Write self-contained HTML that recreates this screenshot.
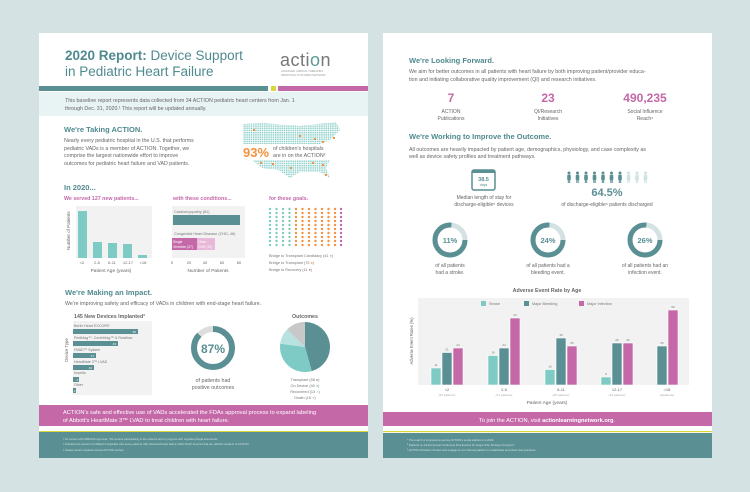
<!DOCTYPE html>
<html><head><meta charset="utf-8"><style>
html,body{margin:0;padding:0;background:#d4e2e3;}
svg{display:block;font-family:"Liberation Sans",sans-serif;}
</style></head><body>
<svg width="750" height="492" viewBox="0 0 750 492" xmlns="http://www.w3.org/2000/svg">
<defs>
<pattern id="dots" width="2.2" height="2.2" patternUnits="userSpaceOnUse"><rect width="1.5" height="1.5" fill="#8fd0cb"/></pattern>
<pattern id="tg" x="268.5" y="207" width="6.5" height="4" patternUnits="userSpaceOnUse"><circle cx="1.5" cy="2" r="1.2" fill="#7ecac5"/></pattern>
<pattern id="og" x="294.5" y="207" width="6.5" height="4" patternUnits="userSpaceOnUse"><circle cx="1.5" cy="2" r="1.2" fill="#f5923e"/></pattern>
<pattern id="mg" x="339.5" y="207" width="6.5" height="4" patternUnits="userSpaceOnUse"><circle cx="1.5" cy="2" r="1.2" fill="#c468a8"/></pattern>
<g id="person"><circle cx="0" cy="-9" r="1.5"/><rect x="-1.8" y="-7.2" width="3.6" height="5.5" rx="1"/><rect x="-1.2" y="-2" width="1" height="3"/><rect x="0.2" y="-2" width="1" height="3"/></g>
</defs>
<rect width="750" height="492" fill="#d4e2e3"/>
<!-- LEFT PAGE -->
<rect x="39" y="33" width="329" height="425" fill="#fff"/>
<text x="65" y="60" font-size="13.5" fill="#4f8a8f"><tspan font-weight="bold">2020 Report:</tspan> Device Support</text>
<text x="65" y="76" font-size="13.5" fill="#4f8a8f">in Pediatric Heart Failure</text>
<text x="280" y="66" font-size="18" fill="#777" letter-spacing="0.5">acti<tspan fill="#5a9a9a">o</tspan>n</text>
<text x="281" y="72" font-size="2.6" fill="#999">ADVANCED CARDIAC THERAPIES</text>
<text x="281" y="76" font-size="2.6" fill="#999">IMPROVING OUTCOMES NETWORK</text>
<rect x="39" y="86" width="229" height="5" fill="#5a8f93"/>
<rect x="271" y="86" width="5" height="5" fill="#d9d63a"/>
<rect x="278" y="86" width="90" height="5" fill="#c468a8"/>
<rect x="39" y="92" width="329" height="24" fill="#e8f4f3"/>
<text x="65" y="102" font-size="5.3" fill="#666">This baseline report represents data collected from 34 ACTION pediatric heart centers from Jan. 1</text>
<text x="65" y="110" font-size="5.3" fill="#666">through Dec. 31, 2020.¹  This report will be updated annually.</text>
<text x="64" y="132" font-size="7.5" font-weight="bold" fill="#4f8a8f">We're Taking ACTION.</text>
<text x="64" y="142" font-size="5.3" fill="#666">Nearly every pediatric hospital in the U.S. that performs</text>
<text x="64" y="150" font-size="5.3" fill="#666">pediatric VADs is a member of ACTION. Together, we</text>
<text x="64" y="157" font-size="5.3" fill="#666">comprise the largest nationwide effort to improve</text>
<text x="64" y="165" font-size="5.3" fill="#666">outcomes for pediatric heart failure and VAD patients.</text>
<path d="M243 124 L262 123 L300 126 L318 124 L336 122 L340 130 L330 140 L320 144 L243 144Z" fill="url(#dots)"/>
<path d="M252 160 L330 160 L326 168 L330 178 L320 172 L300 172 L290 178 L278 170 L262 168Z" fill="url(#dots)"/>
<g fill="#f5923e"><rect x="253" y="129" width="2" height="2"/><rect x="299" y="135" width="2" height="2"/><rect x="314" y="138" width="2" height="2"/><rect x="322" y="141" width="2" height="2"/><rect x="333" y="137" width="2" height="2"/><rect x="260" y="162" width="2" height="2"/><rect x="272" y="163" width="2" height="2"/><rect x="290" y="167" width="2" height="2"/><rect x="312" y="162" width="2" height="2"/><rect x="322" y="164" width="2" height="2"/><rect x="325" y="174" width="2" height="2"/></g>
<text x="243" y="157" font-size="13" font-weight="bold" fill="#f5923e">93%</text>
<text x="273" y="150" font-size="5.3" fill="#666">of children's hospitals</text>
<text x="273" y="157" font-size="5.3" fill="#666">are in on the ACTION²</text>
<text x="64" y="190" font-size="7.5" font-weight="bold" fill="#4f8a8f">In 2020...</text>
<text x="64" y="200" font-size="5.3" font-weight="bold" fill="#c468a8">We served 127 new patients...</text>
<text x="173" y="200" font-size="5.3" font-weight="bold" fill="#c468a8">with these conditions...</text>
<text x="269" y="200" font-size="5.3" font-weight="bold" fill="#c468a8">for these goals.</text>
<rect x="76" y="206" width="76" height="52" fill="#f2f2f2"/>
<text transform="translate(70,250) rotate(-90)" font-size="4.5" fill="#666">Number of Patients</text>
<g fill="#7ecac5"><rect x="78" y="211" width="9" height="47"/><rect x="93" y="242" width="9" height="16"/><rect x="108" y="243" width="9" height="15"/><rect x="123" y="244" width="9" height="14"/><rect x="138" y="255" width="9" height="3"/></g>
<g font-size="4" fill="#666" text-anchor="middle"><text x="82" y="264">&lt;2</text><text x="97" y="264">2-5</text><text x="112" y="264">6-11</text><text x="128" y="264">12-17</text><text x="143" y="264">&gt;18</text></g>
<text x="111" y="272" font-size="4.8" fill="#666" text-anchor="middle">Patient Age (years)</text>
<rect x="172" y="206" width="73" height="52" fill="#f2f2f2"/>
<text x="174" y="213" font-size="3.8" fill="#777">Cardiomyopathy (81)</text>
<rect x="173" y="215" width="67" height="10" fill="#5a8f93"/>
<text x="174" y="235" font-size="3.8" fill="#777">Congenital Heart Disease (CHD, 46)</text>
<rect x="172" y="238" width="25" height="12" fill="#c468a8"/>
<rect x="197" y="238" width="18" height="12" fill="#e8b8d8"/>
<text x="173" y="243" font-size="3.4" fill="#fff">Single</text><text x="173" y="248" font-size="3.4" fill="#fff">Ventricle (27)</text>
<text x="198" y="243" font-size="3.4" fill="#fff">Other</text><text x="198" y="248" font-size="3.4" fill="#fff">CHD (19)</text>
<g font-size="4" fill="#666" text-anchor="middle"><text x="172" y="264">0</text><text x="189" y="264">20</text><text x="205" y="264">40</text><text x="222" y="264">60</text><text x="239" y="264">80</text></g>
<text x="208" y="272" font-size="4.8" fill="#666" text-anchor="middle">Number of Patients</text>
<rect x="268.5" y="207" width="26" height="40" fill="url(#tg)"/>
<rect x="294.5" y="207" width="45" height="40" fill="url(#og)"/>
<rect x="339.5" y="207" width="4" height="40" fill="url(#mg)"/>
<text x="269" y="257" font-size="3.8" fill="#777">Bridge to Transplant Candidacy (41 <tspan fill="#7ecac5">●</tspan>)</text>
<text x="269" y="264" font-size="3.8" fill="#777">Bridge to Transplant (75 <tspan fill="#f5923e">●</tspan>)</text>
<text x="269" y="271" font-size="3.8" fill="#777">Bridge to Recovery (11 <tspan fill="#c468a8">●</tspan>)</text>
<text x="65" y="295" font-size="7.5" font-weight="bold" fill="#4f8a8f">We're Making an Impact.</text>
<text x="65" y="305" font-size="5.3" fill="#666">We're improving safety and efficacy of VADs in children with end-stage heart failure.</text>
<text x="74" y="318" font-size="5.3" font-weight="bold" fill="#666">145 New Devices Implanted³</text>
<rect x="73" y="321" width="79" height="74" fill="#f2f2f2"/>
<text transform="translate(68,350) rotate(-90)" font-size="4.3" fill="#666" text-anchor="middle">Device Type</text>
<g font-size="3.6" fill="#777"><text x="74" y="327">Berlin Heart EXCOR®</text><text x="74" y="339">PediMag™, CentriMag™ &amp; Rotaflow</text><text x="74" y="351">HVAD™ System</text><text x="74" y="363">HeartMate 3™ LVAD</text><text x="74" y="374">Impella</text><text x="74" y="386">Other</text></g>
<g fill="#5a8f93"><rect x="73" y="329" width="65" height="5"/><rect x="73" y="341" width="45" height="5"/><rect x="73" y="353" width="23" height="5"/><rect x="73" y="365" width="21" height="5"/><rect x="73" y="377" width="6" height="5"/><rect x="73" y="388" width="3" height="5"/></g>
<g font-size="3" fill="#fff" text-anchor="end"><text x="136" y="333">65</text><text x="116" y="345">43</text><text x="94" y="357">17</text><text x="92" y="369">16</text><text x="78" y="381">3</text><text x="75.5" y="392">1</text></g>
<circle cx="213" cy="348" r="19" fill="none" stroke="#ddd" stroke-width="6"/>
<circle cx="213" cy="348" r="19" fill="none" stroke="#5a8f93" stroke-width="6" stroke-dasharray="103.9 119.4" transform="rotate(-90 213 348)"/>
<text x="213" y="353" font-size="12" font-weight="bold" fill="#5a8f93" text-anchor="middle">87%</text>
<text x="213" y="382" font-size="5.3" fill="#666" text-anchor="middle">of patients had</text>
<text x="213" y="389" font-size="5.3" fill="#666" text-anchor="middle">positive outcomes</text>
<text x="305" y="318" font-size="5.3" font-weight="bold" fill="#666" text-anchor="middle">Outcomes</text>
<path d="M305 347 L305 322 A25 25 0 0 1 311.7 371.1Z" fill="#5a8f93"/>
<path d="M305 347 L311.7 371.1 A25 25 0 0 1 280.2 343.6Z" fill="#7ecac5"/>
<path d="M305 347 L280.2 343.6 A25 25 0 0 1 287.2 329.4Z" fill="#b8e2df"/>
<path d="M305 347 L287.2 329.4 A25 25 0 0 1 305 322Z" fill="#c8c8c8"/>
<g font-size="3.8" fill="#777" text-anchor="middle"><text x="305" y="381">Transplant (58 <tspan fill="#5a8f93">●</tspan>)</text><text x="305" y="387">On Device (40 <tspan fill="#7ecac5">●</tspan>)</text><text x="305" y="393">Recovered (13 <tspan fill="#b8e2df">●</tspan>)</text><text x="305" y="399">Death (16 <tspan fill="#c8c8c8">●</tspan>)</text></g>
<rect x="39" y="405" width="329" height="21" fill="#c468a8"/>
<text x="63" y="414" font-size="5.7" fill="#fff">ACTION's safe and effective use of VADs accelerated the FDAs approval process to expand labeling</text>
<text x="63" y="422" font-size="5.7" fill="#fff">of Abbott's HeartMate 3™ LVAD to treat children with heart failure.</text>
<rect x="39" y="431" width="329" height="1.2" fill="#d9d63a"/>
<rect x="39" y="432" width="329" height="26" fill="#5a8f93"/>
<g font-size="2.8" fill="#cfe3e3"><text x="63" y="440">¹ 34 centers with IRB/DUA approval, &gt;50 centers participating in the network and in progress with regulatory/legal documents</text><text x="63" y="445">² Indicates the percent of children's hospitals who serve patients with advanced heart failure within North America that are official members of ACTION</text><text x="63" y="451">³ Unique device implants across ACTION centers</text></g>
<!-- RIGHT PAGE -->
<rect x="383" y="33" width="329" height="425" fill="#fff"/>
<text x="409" y="63" font-size="7.5" font-weight="bold" fill="#4f8a8f">We're Looking Forward.</text>
<text x="409" y="73" font-size="5.3" fill="#666">We aim for better outcomes in all patients with heart failure by both improving patient/provider educa-</text>
<text x="409" y="81" font-size="5.3" fill="#666">tion and initiating collaborative quality improvement (QI) and research initiatives.</text>
<g font-size="12" font-weight="bold" fill="#c468a8" text-anchor="middle"><text x="451" y="102">7</text><text x="548" y="102">23</text><text x="645" y="102">490,235</text></g>
<g font-size="5" fill="#666" text-anchor="middle"><text x="451" y="113">ACTION</text><text x="451" y="120">Publications</text><text x="548" y="113">QI/Research</text><text x="548" y="120">Initiatives</text><text x="645" y="113">Social Influence</text><text x="645" y="120">Reach⁴</text></g>
<text x="409" y="139" font-size="7.5" font-weight="bold" fill="#4f8a8f">We're Working to Improve the Outcome.</text>
<text x="409" y="151" font-size="5.3" fill="#666">All outcomes are heavily impacted by patient age, demographics, physiology, and case complexity as</text>
<text x="409" y="158" font-size="5.3" fill="#666">well as device safety profiles and treatment pathways.</text>
<rect x="472" y="170" width="23" height="20" rx="2" fill="none" stroke="#5a8f93" stroke-width="1.5"/>
<rect x="472" y="170" width="23" height="3" fill="#5a8f93"/>
<text x="483.5" y="181" font-size="5.5" font-weight="bold" fill="#5a8f93" text-anchor="middle">38.5</text>
<text x="483.5" y="186" font-size="3.5" fill="#5a8f93" text-anchor="middle">days</text>
<text x="484" y="199" font-size="5" fill="#666" text-anchor="middle">Median length of stay for</text>
<text x="484" y="206" font-size="5" fill="#666" text-anchor="middle">discharge-eligible⁵ devices</text>
<g fill="#5a8f93"><use href="#person" x="569" y="182"/><use href="#person" x="577.5" y="182"/><use href="#person" x="586" y="182"/><use href="#person" x="594.5" y="182"/><use href="#person" x="603" y="182"/><use href="#person" x="611.5" y="182"/><use href="#person" x="620" y="182"/></g>
<g fill="#cfe3e3"><use href="#person" x="628.5" y="182"/><use href="#person" x="637" y="182"/><use href="#person" x="645.5" y="182"/></g>
<text x="607" y="196" font-size="11" font-weight="bold" fill="#5a8f93" text-anchor="middle">64.5%</text>
<text x="607" y="206" font-size="5" fill="#666" text-anchor="middle">of discharge-eligible⁵ patients discharged</text>
<g fill="none" stroke-width="5">
<circle cx="450" cy="240" r="15" stroke="#d4e2e3"/><circle cx="450" cy="240" r="15" stroke="#5a8f93" stroke-dasharray="72 94.2"/>
<circle cx="548" cy="240" r="15" stroke="#d4e2e3"/><circle cx="548" cy="240" r="15" stroke="#5a8f93" stroke-dasharray="72 94.2"/>
<circle cx="645" cy="240" r="15" stroke="#d4e2e3"/><circle cx="645" cy="240" r="15" stroke="#5a8f93" stroke-dasharray="72 94.2"/>
</g>
<g font-size="7.5" font-weight="bold" fill="#5a8f93" text-anchor="middle"><text x="450" y="243">11%</text><text x="548" y="243">24%</text><text x="645" y="243">26%</text></g>
<g font-size="5" fill="#666" text-anchor="middle"><text x="450" y="267">of all patients</text><text x="450" y="274">had a stroke.</text><text x="548" y="267">of all patients had a</text><text x="548" y="274">bleeding event.</text><text x="645" y="267">of all patients had an</text><text x="645" y="274">infection event.</text></g>
<text x="547" y="292" font-size="5.3" font-weight="bold" fill="#666" text-anchor="middle">Adverse Event Rate by Age</text>
<rect x="418" y="298" width="271" height="87" fill="#f2f2f2"/>
<text transform="translate(413,341) rotate(-90)" font-size="4.2" fill="#666" text-anchor="middle">Adverse Event Rates (%)</text>
<g font-size="3.8" fill="#777"><rect x="481" y="301" width="5" height="5" fill="#7ecac5"/><text x="489" y="305">Stroke</text><rect x="524" y="301" width="5" height="5" fill="#5a8f93"/><text x="532" y="305">Major Bleeding</text><rect x="579" y="301" width="5" height="5" fill="#c468a8"/><text x="587" y="305">Major Infection</text></g>
<g stroke="#fff" stroke-width="0.6">
<rect x="431" y="368" width="10" height="17" fill="#7ecac5"/><rect x="442" y="352.5" width="10" height="32.5" fill="#5a8f93"/><rect x="453" y="348" width="10" height="37" fill="#c468a8"/>
<rect x="488" y="355.5" width="10" height="29.5" fill="#7ecac5"/><rect x="499" y="348" width="10" height="37" fill="#5a8f93"/><rect x="510" y="318" width="10" height="67" fill="#c468a8"/>
<rect x="545" y="369.5" width="10" height="15.5" fill="#7ecac5"/><rect x="556" y="338" width="10" height="47" fill="#5a8f93"/><rect x="567" y="346" width="10" height="39" fill="#c468a8"/>
<rect x="601" y="377" width="10" height="8" fill="#7ecac5"/><rect x="612" y="343" width="10" height="42" fill="#5a8f93"/><rect x="623" y="343" width="10" height="42" fill="#c468a8"/>
<rect x="657" y="346" width="10" height="39" fill="#5a8f93"/><rect x="668" y="310" width="10" height="75" fill="#c468a8"/>
</g>
<g font-size="3" fill="#777" text-anchor="middle">
<text x="436" y="366">11</text><text x="447" y="350.5">21</text><text x="458" y="346">24</text>
<text x="493" y="353.5">19</text><text x="504" y="346">24</text><text x="515" y="316">43</text>
<text x="550" y="367.5">10</text><text x="561" y="336">30</text><text x="572" y="344">25</text>
<text x="606" y="375">5</text><text x="617" y="341">26</text><text x="628" y="341">26</text>
<text x="662" y="344">25</text><text x="673" y="308">50</text></g>
<g font-size="4" fill="#666" text-anchor="middle"><text x="447" y="391">&lt;2</text><text x="504" y="391">2-5</text><text x="561" y="391">6-11</text><text x="617" y="391">12-17</text><text x="667" y="391">&gt;18</text></g>
<g font-size="3" fill="#aaa" font-style="italic" text-anchor="middle"><text x="447" y="396">(63 patients)</text><text x="504" y="396">(21 patients)</text><text x="561" y="396">(20 patients)</text><text x="617" y="396">(19 patients)</text><text x="667" y="396">(4patients)</text></g>
<text x="547" y="404" font-size="4.8" fill="#666" text-anchor="middle">Patient Age (years)</text>
<rect x="383" y="412" width="329" height="14" fill="#c468a8"/>
<text x="547" y="422" font-size="5.7" fill="#fff" text-anchor="middle">To join the ACTION, visit <tspan font-weight="bold">actionlearningnetwork.org</tspan>.</text>
<rect x="383" y="431" width="329" height="1.2" fill="#d9d63a"/>
<rect x="383" y="433" width="329" height="25" fill="#5a8f93"/>
<g font-size="2.8" fill="#cfe3e3"><text x="407" y="441">⁴ The total # of impressions across ACTION's social platforms in 2020.</text><text x="407" y="446">⁵ Patients on intracorporeal continuous flow devices for longer than 30 days of support.</text><text x="407" y="451">⁶ ACTION clinicians interact and engage on our internal platform to collaborate and share best practices.</text></g>
</svg>
</body></html>
